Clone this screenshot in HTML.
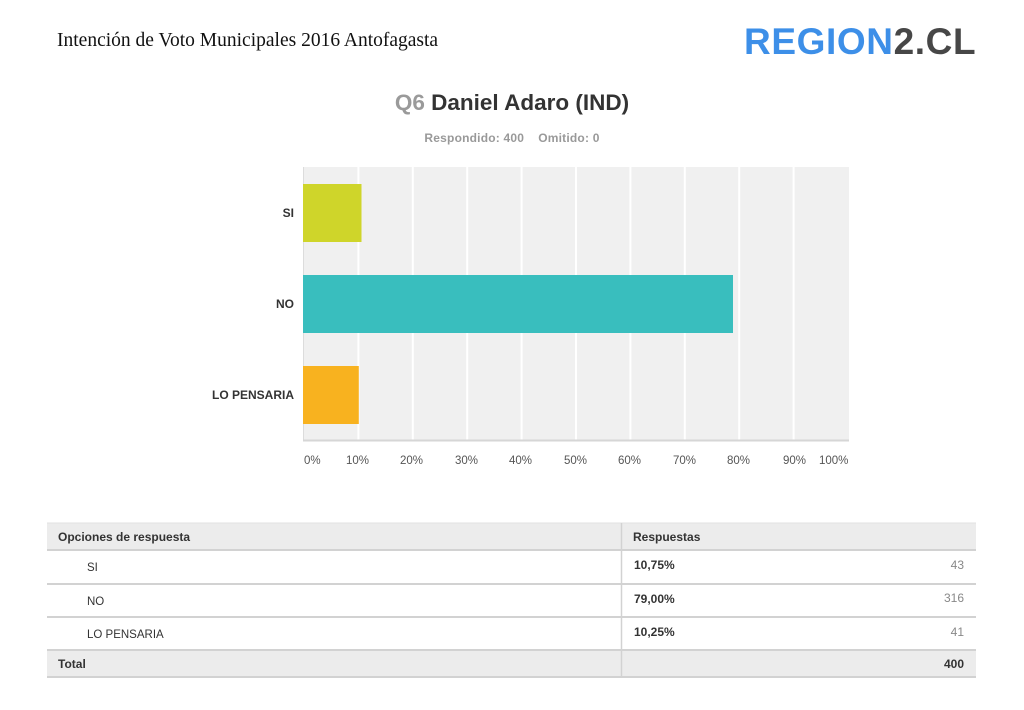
<!DOCTYPE html>
<html><head><meta charset="utf-8">
<style>
html,body{margin:0;padding:0;background:#fff;}
body{width:1024px;height:710px;position:relative;overflow:hidden;font-family:"Liberation Sans",Arial,sans-serif;}
.a{position:absolute;white-space:nowrap;}
.hdr{left:57px;top:30px;font-family:"Liberation Serif","Times New Roman",serif;font-size:19.5px;color:#111;}
.logo{left:744px;top:21px;font-size:37px;font-weight:bold;letter-spacing:0.6px;line-height:42px;}
.logo .b{color:#3d8fe8;}
.logo .g{color:#474747;}
.title{left:0;width:1024px;text-align:center;top:90px;font-size:22.5px;font-weight:bold;color:#333;}
.title span{color:#9a9a9a;}
.sub{left:0;width:1024px;text-align:center;top:131px;font-size:12px;font-weight:bold;color:#999;letter-spacing:0.2px;}
.cat{font-size:12px;font-weight:bold;color:#333;text-align:right;width:200px;left:94px;}
.tick{font-size:11.5px;color:#555;top:455px;}
.tbl{font-size:12px;color:#333;}
</style></head><body>
<div class="a hdr">Intención de Voto Municipales 2016 Antofagasta</div>
<div class="a logo"><span class="b">REGION</span><span class="g">2.CL</span></div>
<div class="a title"><span>Q6</span> Daniel Adaro (IND)</div>
<div class="a sub">Respondido: 400&nbsp;&nbsp;&nbsp;&nbsp;Omitido: 0</div>

<svg class="a" style="left:0;top:0" width="1024" height="710">
  <rect x="303" y="167" width="546" height="273" fill="#f0f0f0"/>
  <g stroke="#ffffff" stroke-width="2">
    <line x1="358.4" y1="167" x2="358.4" y2="440"/>
    <line x1="412.8" y1="167" x2="412.8" y2="440"/>
    <line x1="467.2" y1="167" x2="467.2" y2="440"/>
    <line x1="521.6" y1="167" x2="521.6" y2="440"/>
    <line x1="576" y1="167" x2="576" y2="440"/>
    <line x1="630.4" y1="167" x2="630.4" y2="440"/>
    <line x1="684.8" y1="167" x2="684.8" y2="440"/>
    <line x1="739.2" y1="167" x2="739.2" y2="440"/>
    <line x1="793.6" y1="167" x2="793.6" y2="440"/>
  </g>
  <line x1="303.5" y1="167" x2="303.5" y2="441" stroke="#dcdcdc" stroke-width="1"/>
  <line x1="303" y1="440.5" x2="849" y2="440.5" stroke="#d6d6d6" stroke-width="2"/>
  <rect x="303" y="184" width="58.5" height="58" fill="#cfd52a"/>
  <rect x="303" y="275" width="430" height="58" fill="#39bebe"/>
  <rect x="303" y="366" width="55.8" height="58" fill="#f8b21f"/>
  <!-- table -->
  <rect x="47" y="523" width="929" height="27" fill="#ececec"/>
  <rect x="47" y="650" width="929" height="27" fill="#ececec"/>
  <g stroke="#d2d2d2" stroke-width="2">
    <line x1="47" y1="523" x2="976" y2="523" stroke="#e2e2e2" stroke-width="1"/>
    <line x1="47" y1="550" x2="976" y2="550"/>
    <line x1="47" y1="584" x2="976" y2="584"/>
    <line x1="47" y1="617" x2="976" y2="617"/>
    <line x1="47" y1="650" x2="976" y2="650"/>
    <line x1="47" y1="677" x2="976" y2="677"/>
    <line x1="621.5" y1="523" x2="621.5" y2="677" stroke-width="1.5"/>
  </g>
</svg>

<div class="a cat" style="top:206px">SI</div>
<div class="a cat" style="top:297px">NO</div>
<div class="a cat" style="top:388px">LO PENSARIA</div>

<div class="a tick" style="left:304px">0%</div>
<div class="a tick" style="left:346px">10%</div>
<div class="a tick" style="left:400px">20%</div>
<div class="a tick" style="left:455px">30%</div>
<div class="a tick" style="left:509px">40%</div>
<div class="a tick" style="left:564px">50%</div>
<div class="a tick" style="left:618px">60%</div>
<div class="a tick" style="left:673px">70%</div>
<div class="a tick" style="left:727px">80%</div>
<div class="a tick" style="left:783px">90%</div>
<div class="a tick" style="left:819px">100%</div>

<div class="a tbl" style="left:58px;top:530px;font-weight:bold;">Opciones de respuesta</div>
<div class="a tbl" style="left:633px;top:530px;font-weight:bold;">Respuestas</div>

<div class="a tbl" style="left:87px;top:562px;font-size:11.5px;">SI</div>
<div class="a tbl" style="left:87px;top:596px;font-size:11.5px;">NO</div>
<div class="a tbl" style="left:87px;top:629px;font-size:11.5px;">LO PENSARIA</div>

<div class="a tbl" style="left:634px;top:558px;font-weight:bold;">10,75%</div>
<div class="a tbl" style="left:634px;top:592px;font-weight:bold;">79,00%</div>
<div class="a tbl" style="left:634px;top:625px;font-weight:bold;">10,25%</div>

<div class="a tbl" style="right:60px;top:558px;color:#888;">43</div>
<div class="a tbl" style="right:60px;top:591px;color:#888;">316</div>
<div class="a tbl" style="right:60px;top:625px;color:#888;">41</div>

<div class="a tbl" style="left:58px;top:657px;font-weight:bold;">Total</div>
<div class="a tbl" style="right:60px;top:657px;font-weight:bold;">400</div>
</body></html>
